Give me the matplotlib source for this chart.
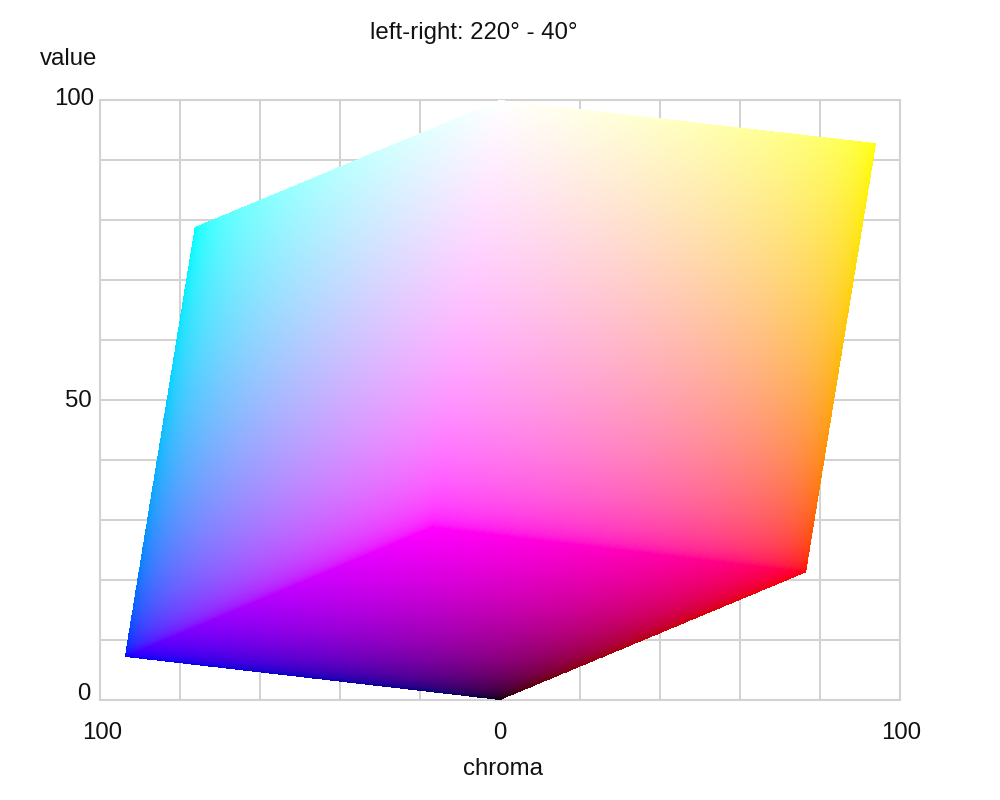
# RGB cube seen left-right along the 220 - 40 degree hue plane
import numpy as np
import matplotlib.pyplot as plt

plt.rcParams['font.family'] = ['Liberation Sans', 'DejaVu Sans']

# cube corners: (chroma, value), chroma is signed, left is negative
black = [0, 0]
blue = [-93.8, 7.2]
red = [76.5, 21.3]
magenta = [-17.0, 28.8]
cyan = [-76.3, 78.8]
yellow = [94.0, 92.8]
white = [0, 100]

# corner colours, linear light
black_rgb = [0, 0, 0]
blue_rgb = [0, 0, 1]
red_rgb = [1, 0, 0]
magenta_rgb = [1, 0, 1]
cyan_rgb = [0, 1, 1]
yellow_rgb = [1, 1, 0]
white_rgb = [1, 1, 1]

# faces, corners go round: a, b, c, d
faces = [
    ([blue, magenta, white, cyan], [blue_rgb, magenta_rgb, white_rgb, cyan_rgb]),
    ([magenta, red, yellow, white], [magenta_rgb, red_rgb, yellow_rgb, white_rgb]),
    ([black, red, magenta, blue], [black_rgb, red_rgb, magenta_rgb, blue_rgb]),
]

x_ticks = np.arange(-100, 101, 20)
y_ticks = np.arange(0, 101, 10)
x_labels = [(-100, '100'), (0, '0'), (100, '100')]
y_labels = [(0, '0'), (50, '50'), (100, '100')]

GRID = '#d3d3d3'
FS = 17.3


def blend(corners, u, v):
    # bilinear mix of four corners
    a, b, c, d = [np.array(p, dtype=float) for p in corners]
    u = u[..., None]
    v = v[..., None]
    return a * (1 - u) * (1 - v) + b * u * (1 - v) + c * u * v + d * (1 - u) * v


def srgb(c):
    # linear light to display values
    c = np.clip(c, 0, 1)
    return np.where(c <= 0.0031308, 12.92 * c, 1.055 * c ** (1 / 2.4) - 0.055)


fig = plt.figure(figsize=(10, 8), dpi=100)
ax = fig.add_axes([0.1, 0.125, 0.8, 0.75])
ax.set_xlim(-100, 100)
ax.set_ylim(0, 100)

ax.set_xticks(x_ticks)
ax.set_yticks(y_ticks)
ax.set_xticklabels([])
ax.set_yticklabels([])
ax.tick_params(length=0)
ax.grid(True, color=GRID, linewidth=1.5)
ax.set_axisbelow(True)
for s in ax.spines.values():
    s.set_color(GRID)
    s.set_linewidth(1.5)

# draw the faces as fine meshes
n = 400
edges = np.linspace(0, 1, n + 1)
mids = (edges[:-1] + edges[1:]) / 2
for pos, cols in faces:
    u, v = np.meshgrid(edges, edges)
    xy = blend(pos, u, v)
    um, vm = np.meshgrid(mids, mids)
    rgb = srgb(blend(cols, um, vm))
    ax.pcolormesh(xy[..., 0], xy[..., 1], rgb, shading='flat',
                  antialiased=False, linewidth=0, rasterized=True, zorder=3)

# axis numbers sit at hand-placed offsets in the original
x_shift = {-100: 2, 0: 0, 100: 1}
for val, txt in x_labels:
    ax.annotate(txt, (val, 0), xytext=(x_shift[val], -33), textcoords='offset pixels',
                ha='center', va='center', fontsize=FS, color='#111111', annotation_clip=False)
y_shift = {0: 6, 50: -1, 100: 1}
x_shift = {0: -10, 50: -8, 100: -6}
for val, txt in y_labels:
    ax.annotate(txt, (-100, val), xytext=(x_shift[val], y_shift[val]), textcoords='offset pixels',
                ha='right', va='center', fontsize=FS, color='#111111', annotation_clip=False)

fig.text(0.474, 0.9585, 'left-right: 220° - 40°', ha='center', va='center', fontsize=FS, color='#111111')
fig.text(0.0685, 0.9265, 'value', ha='center', va='center', fontsize=FS, color='#111111')
fig.text(0.503, 0.0385, 'chroma', ha='center', va='center', fontsize=FS, color='#111111')

plt.savefig('out.png', dpi=100)
